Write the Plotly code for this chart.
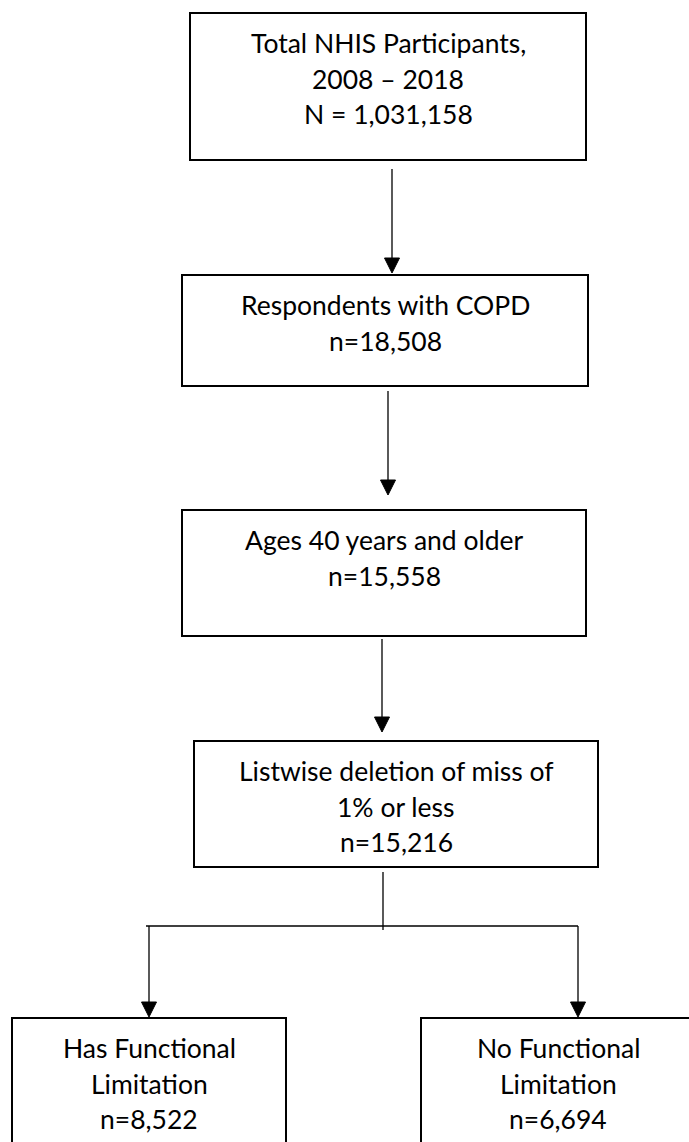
import plotly.graph_objects as go

# ---- content ----
stage_labels = [
    "Total NHIS Participants,<br>2008 – 2018",
    "Respondents with COPD",
    "Ages 40 years and older",
    "Listwise deletion of miss of<br>1% or less",
    "Has Functional<br>Limitation",
    "No Functional<br>Limitation",
]
stage_counts = ["N = 1,031,158", "n=18,508", "n=15,558", "n=15,216", "n=8,522", "n=6,694"]

# ---- layout (pixel coordinates, y downward) ----
box_x0 = [190, 182, 182, 194, 12, 421]
box_x1 = [586, 588, 586, 598, 286, 695]
box_y0 = [13, 275, 510, 741, 1018, 1018]
box_y1 = [160, 386, 636, 867, 1160, 1160]

arrow_x = [392, 388, 382, 149, 578]
arrow_y0 = [169, 391, 639, 926, 926]
arrow_y1 = [273, 495, 732, 1017, 1017]

W, H = 689, 1142
FONT = "Lato, Carlito, Calibri, sans-serif"
FS = 26.5
LINE_H = 35.5
FIRST_OFF = 30

fig = go.Figure()
shapes = []
annotations = []

for i in range(len(stage_labels)):
    shapes.append(dict(type="rect", xref="x", yref="y",
                       x0=box_x0[i], x1=box_x1[i], y0=box_y0[i], y1=box_y1[i],
                       line=dict(color="black", width=2), fillcolor="white", layer="below"))
    lines = stage_labels[i].split("<br>") + [stage_counts[i]]
    cx = (box_x0[i] + box_x1[i]) / 2
    for j, t in enumerate(lines):
        annotations.append(dict(x=cx, y=box_y0[i] + FIRST_OFF + j * LINE_H,
                                xref="x", yref="y", text=t, showarrow=False,
                                xanchor="center", yanchor="middle",
                                font=dict(family=FONT, size=FS, color="black")))

# arrows
AH = 15
AW = 7.5
for x, ya, yb in zip(arrow_x, arrow_y0, arrow_y1):
    shapes.append(dict(type="line", xref="x", yref="y", x0=x, x1=x, y0=ya, y1=yb - AH + 1,
                       line=dict(color="black", width=1.3)))
    shapes.append(dict(type="path", xref="x", yref="y",
                       path=f"M {x-AW},{yb-AH} L {x+AW},{yb-AH} L {x},{yb} Z",
                       fillcolor="black", line=dict(color="black", width=1)))

# split connector
shapes.append(dict(type="line", xref="x", yref="y", x0=383, x1=383, y0=872, y1=930,
                   line=dict(color="black", width=1.3)))
shapes.append(dict(type="line", xref="x", yref="y", x0=146, x1=578, y0=926, y1=926,
                   line=dict(color="black", width=1.3)))

fig.update_layout(
    width=W, height=H,
    margin=dict(l=0, r=0, t=0, b=0),
    paper_bgcolor="white", plot_bgcolor="white",
    xaxis=dict(range=[0, W], visible=False, fixedrange=True),
    yaxis=dict(range=[H, 0], visible=False, fixedrange=True),
    shapes=shapes, annotations=annotations, showlegend=False,
)

fig.write_html("out.html", config={"displayModeBar": False},
               post_script="document.body.style.margin='0';document.body.style.overflow='hidden';")
